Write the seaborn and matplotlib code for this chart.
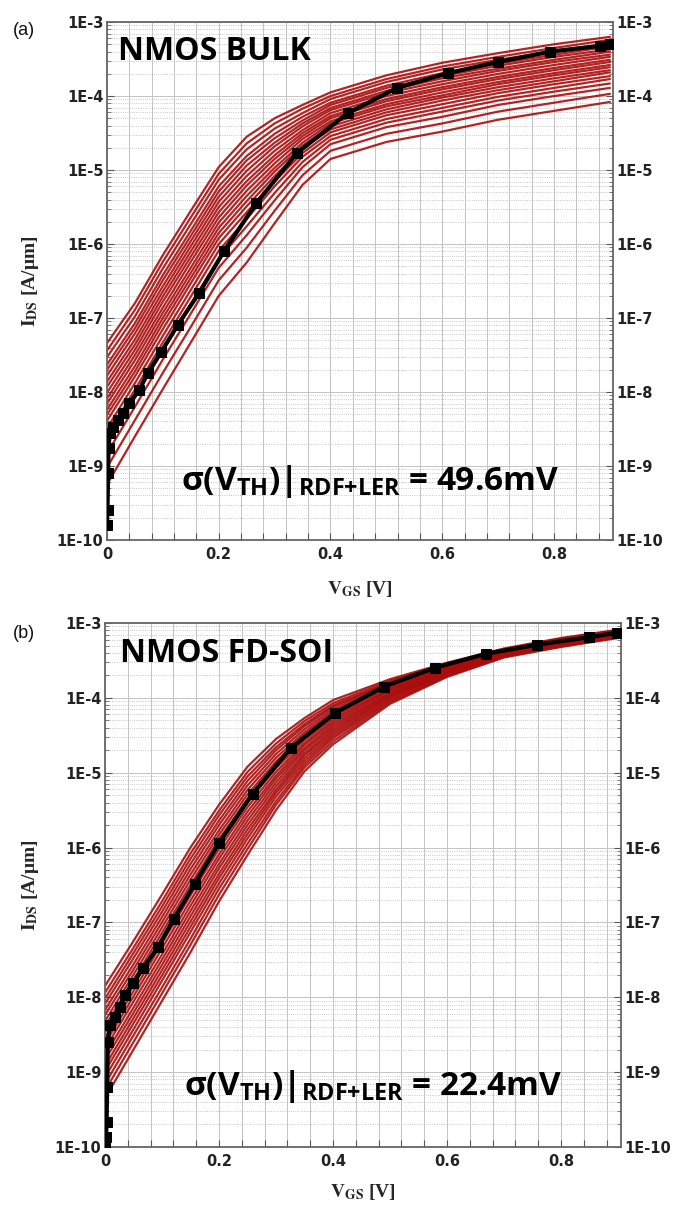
import numpy as np
import pandas as pd
import matplotlib
matplotlib.use("Agg")
import matplotlib.pyplot as plt
import seaborn as sns
from matplotlib.ticker import FixedLocator, LogLocator, NullFormatter

# ---------------- data (log10 of I_DS in A/um) ----------------
vgs_grid = [0.0, 0.05, 0.10, 0.15, 0.20, 0.25, 0.30, 0.35, 0.40, 0.50, 0.60, 0.70, 0.80, 0.90]

bulk_red_log = [
    [-7.34, -6.80, -6.15, -5.55, -4.96, -4.55, -4.30, -4.12, -3.95, -3.72, -3.55, -3.42, -3.30, -3.20],
    [-7.44, -6.89, -6.24, -5.64, -5.05, -4.64, -4.37, -4.17, -4.00, -3.77, -3.60, -3.47, -3.35, -3.24],
    [-7.53, -6.98, -6.33, -5.73, -5.13, -4.72, -4.44, -4.23, -4.04, -3.81, -3.64, -3.51, -3.39, -3.29],
    [-7.63, -7.07, -6.42, -5.82, -5.22, -4.81, -4.51, -4.28, -4.09, -3.86, -3.69, -3.56, -3.44, -3.33],
    [-7.70, -7.14, -6.49, -5.89, -5.29, -4.87, -4.57, -4.33, -4.12, -3.89, -3.73, -3.59, -3.47, -3.37],
    [-7.78, -7.21, -6.57, -5.96, -5.36, -4.94, -4.63, -4.37, -4.16, -3.93, -3.76, -3.63, -3.51, -3.40],
    [-7.86, -7.29, -6.64, -6.03, -5.43, -5.01, -4.68, -4.41, -4.19, -3.96, -3.80, -3.66, -3.54, -3.44],
    [-7.93, -7.36, -6.71, -6.10, -5.50, -5.08, -4.74, -4.46, -4.23, -4.00, -3.84, -3.70, -3.58, -3.47],
    [-8.01, -7.43, -6.78, -6.17, -5.57, -5.15, -4.80, -4.50, -4.27, -4.04, -3.88, -3.74, -3.62, -3.51],
    [-8.09, -7.50, -6.86, -6.24, -5.64, -5.21, -4.85, -4.54, -4.30, -4.07, -3.91, -3.77, -3.65, -3.54],
    [-8.16, -7.57, -6.93, -6.32, -5.71, -5.28, -4.91, -4.58, -4.34, -4.11, -3.95, -3.81, -3.69, -3.58],
    [-8.24, -7.65, -7.00, -6.39, -5.78, -5.35, -4.97, -4.63, -4.37, -4.14, -3.99, -3.84, -3.72, -3.61],
    [-8.31, -7.72, -7.07, -6.46, -5.85, -5.42, -5.02, -4.67, -4.41, -4.18, -4.02, -3.88, -3.76, -3.65],
    [-8.39, -7.79, -7.15, -6.53, -5.92, -5.49, -5.08, -4.71, -4.45, -4.22, -4.06, -3.92, -3.80, -3.68],
    [-8.49, -7.88, -7.24, -6.62, -6.00, -5.57, -5.15, -4.77, -4.49, -4.26, -4.11, -3.96, -3.84, -3.73],
    [-8.58, -7.97, -7.33, -6.71, -6.09, -5.66, -5.22, -4.82, -4.54, -4.31, -4.16, -4.01, -3.89, -3.77],
    [-8.70, -8.08, -7.44, -6.81, -6.20, -5.76, -5.31, -4.89, -4.59, -4.36, -4.21, -4.06, -3.94, -3.83],
    [-8.83, -8.20, -7.56, -6.94, -6.32, -5.88, -5.41, -4.96, -4.65, -4.42, -4.28, -4.12, -4.00, -3.89],
    [-9.02, -8.38, -7.74, -7.12, -6.49, -6.05, -5.55, -5.07, -4.74, -4.51, -4.37, -4.21, -4.09, -3.97],
    [-9.25, -8.60, -7.96, -7.33, -6.70, -6.25, -5.72, -5.20, -4.85, -4.62, -4.48, -4.32, -4.20, -4.08],
]

soi_red_log = [
    [-7.85, -7.25, -6.63, -6.00, -5.43, -4.92, -4.55, -4.27, -4.03, -3.75, -3.53, -3.34, -3.20, -3.09],
    [-7.94, -7.34, -6.72, -6.08, -5.51, -4.99, -4.61, -4.31, -4.07, -3.77, -3.54, -3.35, -3.21, -3.10],
    [-8.02, -7.41, -6.79, -6.15, -5.57, -5.05, -4.66, -4.35, -4.10, -3.79, -3.55, -3.35, -3.21, -3.10],
    [-8.09, -7.48, -6.86, -6.22, -5.64, -5.11, -4.70, -4.38, -4.12, -3.80, -3.56, -3.36, -3.22, -3.11],
    [-8.17, -7.56, -6.93, -6.29, -5.70, -5.17, -4.75, -4.42, -4.15, -3.82, -3.57, -3.37, -3.23, -3.11],
    [-8.24, -7.63, -7.00, -6.36, -5.77, -5.23, -4.80, -4.46, -4.18, -3.84, -3.58, -3.37, -3.23, -3.12],
    [-8.32, -7.70, -7.07, -6.43, -5.83, -5.29, -4.85, -4.49, -4.21, -3.85, -3.59, -3.38, -3.24, -3.12],
    [-8.39, -7.77, -7.14, -6.50, -5.89, -5.35, -4.89, -4.53, -4.24, -3.87, -3.60, -3.38, -3.24, -3.13],
    [-8.47, -7.85, -7.21, -6.57, -5.96, -5.40, -4.94, -4.56, -4.27, -3.89, -3.61, -3.39, -3.25, -3.14],
    [-8.54, -7.92, -7.28, -6.64, -6.02, -5.46, -4.99, -4.60, -4.30, -3.90, -3.62, -3.40, -3.26, -3.14],
    [-8.62, -7.99, -7.35, -6.71, -6.09, -5.52, -5.04, -4.63, -4.33, -3.92, -3.63, -3.40, -3.26, -3.15],
    [-8.69, -8.06, -7.43, -6.78, -6.15, -5.58, -5.08, -4.67, -4.36, -3.94, -3.64, -3.41, -3.27, -3.15],
    [-8.77, -8.14, -7.50, -6.85, -6.22, -5.64, -5.13, -4.70, -4.39, -3.95, -3.65, -3.41, -3.27, -3.16],
    [-8.84, -8.21, -7.57, -6.92, -6.28, -5.70, -5.18, -4.74, -4.42, -3.97, -3.66, -3.42, -3.28, -3.16],
    [-8.92, -8.28, -7.64, -6.99, -6.35, -5.76, -5.23, -4.77, -4.45, -3.98, -3.67, -3.43, -3.29, -3.17],
    [-8.99, -8.35, -7.71, -7.06, -6.41, -5.82, -5.27, -4.81, -4.48, -4.00, -3.67, -3.43, -3.29, -3.17],
    [-9.07, -8.43, -7.78, -7.13, -6.48, -5.88, -5.32, -4.85, -4.51, -4.02, -3.68, -3.44, -3.30, -3.18],
    [-9.16, -8.51, -7.87, -7.22, -6.55, -5.95, -5.38, -4.89, -4.54, -4.04, -3.70, -3.44, -3.30, -3.19],
    [-9.25, -8.60, -7.95, -7.30, -6.63, -6.02, -5.43, -4.93, -4.58, -4.06, -3.71, -3.45, -3.31, -3.19],
    [-9.35, -8.70, -8.05, -7.40, -6.72, -6.10, -5.50, -4.98, -4.62, -4.08, -3.72, -3.46, -3.32, -3.20],
]

bulk_nom_vgs = [0.0, 0.001, 0.002, 0.003, 0.005, 0.011, 0.020, 0.029, 0.040, 0.058, 0.073, 0.097,
                0.127, 0.165, 0.210, 0.267, 0.340, 0.431, 0.519, 0.610, 0.700, 0.793, 0.883, 0.900]
bulk_nom_log = [-9.80, -9.59, -9.10, -8.75, -8.55, -8.47, -8.38, -8.28, -8.15, -7.97, -7.74, -7.46,
                -7.09, -6.66, -6.09, -5.45, -4.77, -4.23, -3.89, -3.69, -3.54, -3.40, -3.32, -3.29]

soi_nom_vgs = [0.001, 0.002, 0.003, 0.004, 0.005, 0.009, 0.018, 0.026, 0.035, 0.049, 0.067, 0.093,
               0.121, 0.158, 0.200, 0.259, 0.326, 0.404, 0.489, 0.578, 0.669, 0.758, 0.849, 0.898]
soi_nom_log = [-10.0, -9.87, -9.67, -9.20, -8.60, -8.37, -8.26, -8.13, -7.97, -7.81, -7.61, -7.33,
               -6.95, -6.48, -5.94, -5.28, -4.67, -4.20, -3.85, -3.60, -3.41, -3.29, -3.19, -3.13]

ytick_vals = [1e-10, 1e-9, 1e-8, 1e-7, 1e-6, 1e-5, 1e-4, 1e-3]
ytick_labels = ["1E-10", "1E-9", "1E-8", "1E-7", "1E-6", "1E-5", "1E-4", "1E-3"]
xtick_labels = {0: "0", 5: "0.2", 10: "0.4", 15: "0.6", 20: "0.8"}

panels = [
    dict(tag="(a)", title="NMOS BULK", sigma="49.6mV", red=bulk_red_log,
         nv=bulk_nom_vgs, nl=bulk_nom_log),
    dict(tag="(b)", title="NMOS FD-SOI", sigma="22.4mV", red=soi_red_log,
         nv=soi_nom_vgs, nl=soi_nom_log),
]

# ---------------- style ----------------
sns.set_theme(style="white")
plt.rcParams["font.family"] = ["DejaVu Sans"]
plt.rcParams["mathtext.fontset"] = "custom"
plt.rcParams["mathtext.rm"] = "Open Sans:bold"
plt.rcParams["mathtext.it"] = "Open Sans:bold"
plt.rcParams["mathtext.bf"] = "Open Sans:bold"

RED = "#aa0c0c"

fig = plt.figure(figsize=(6.9, 12.06), dpi=100)
rects = [[0.155, 0.5522, 0.733, 0.4295], [0.152, 0.0489, 0.748, 0.4345]]
title_pos = [(0.022, 0.927), (0.029, 0.926)]
sigma_pos = [(0.146, 0.0965), (0.153, 0.099)]
ylab_x = [-0.152, -0.145]
xlab_y = [-0.0945, -0.086]
tag_pos = [(0.018, 0.982), (0.018, 0.482)]

for i, p in enumerate(panels):
    ax = fig.add_axes(rects[i])
    ax.set_yscale("log")
    rows = []
    for k, curve in enumerate(p["red"]):
        for v, l in zip(vgs_grid, curve):
            rows.append((k, v, 10.0 ** l))
    df = pd.DataFrame(rows, columns=["curve", "vgs", "ids"])
    sns.lineplot(data=df, x="vgs", y="ids", units="curve", estimator=None,
                 color=RED, lw=1.6, alpha=0.9, ax=ax, legend=False, zorder=2)
    nom = pd.DataFrame({"vgs": p["nv"], "ids": 10.0 ** np.array(p["nl"])})
    sns.lineplot(data=nom, x="vgs", y="ids", estimator=None, color="black", lw=3.0,
                 marker="s", markersize=6.5, markeredgecolor="black", ax=ax, zorder=4)

    ax.set_xlim(0, 0.905)
    ax.set_ylim(1e-10, 1e-3)

    xt = [j * 0.04 for j in range(23)]
    ax.xaxis.set_major_locator(FixedLocator(xt))
    ax.set_xticklabels([xtick_labels.get(j, "") for j in range(23)])
    ax.yaxis.set_major_locator(FixedLocator(ytick_vals))
    ax.set_yticklabels(ytick_labels)
    ax.yaxis.set_minor_locator(LogLocator(base=10, subs=range(2, 10), numticks=100))
    ax.yaxis.set_minor_formatter(NullFormatter())

    ax.tick_params(axis="both", which="major", direction="in", length=5, width=0.8,
                   color="#555555", labelsize=10.5, labelcolor="#222222")
    ax.tick_params(axis="y", which="both", left=True, right=True, labelleft=True,
                   labelright=True, pad=2.5)
    ax.tick_params(axis="y", which="minor", direction="in", length=3, width=0.6, color="#666666")
    ax.tick_params(axis="x", which="major", bottom=True, top=False, pad=5)
    for lab in ax.get_xticklabels():
        lab.set_fontweight("bold")
    for t in ax.yaxis.get_major_ticks():
        t.label1.set_fontweight("bold")
        t.label2.set_fontweight("bold")

    ax.set_axisbelow(True)
    ax.grid(True, which="major", axis="both", color="#c4c4c4", lw=0.7, ls="-")
    ax.grid(True, which="minor", axis="y", color="#b8b8b8", lw=0.6, ls=":")
    for s in ax.spines.values():
        s.set_color("#666666")
        s.set_linewidth(1.3)

    ax.set_xlabel(r"$\mathbf{V}_{\mathbf{GS}}$ [V]", family="Liberation Serif",
                  fontweight="bold", fontsize=14, math_fontfamily="stix")
    ax.xaxis.set_label_coords(0.5, xlab_y[i])
    ax.xaxis.label.set_va("center")
    ax.set_ylabel(r"$\mathbf{I}_{\mathbf{DS}}$ [A/μm]", family="Liberation Serif",
                  fontweight="bold", fontsize=14, math_fontfamily="stix")
    ax.yaxis.set_label_coords(ylab_x[i], 0.5)
    ax.yaxis.label.set_va("center")

    ax.text(title_pos[i][0], title_pos[i][1], p["title"], transform=ax.transAxes,
            family="Open Sans", fontweight="bold", fontsize=23, ha="left", va="baseline",
            color="black", zorder=6)
    ax.text(sigma_pos[i][0], sigma_pos[i][1],
            r"$\sigma(\mathrm{V}_{\mathrm{TH}})|_{\mathrm{RDF{+}LER}}$ = " + p["sigma"],
            transform=ax.transAxes, family="Open Sans", fontweight="bold", fontsize=24,
            ha="left", va="baseline", color="black", zorder=6)

    fig.text(tag_pos[i][0], tag_pos[i][1], p["tag"], family="Liberation Sans",
             fontsize=13, ha="left", va="top", color="#111111")

fig.savefig("out.png", dpi=100)
